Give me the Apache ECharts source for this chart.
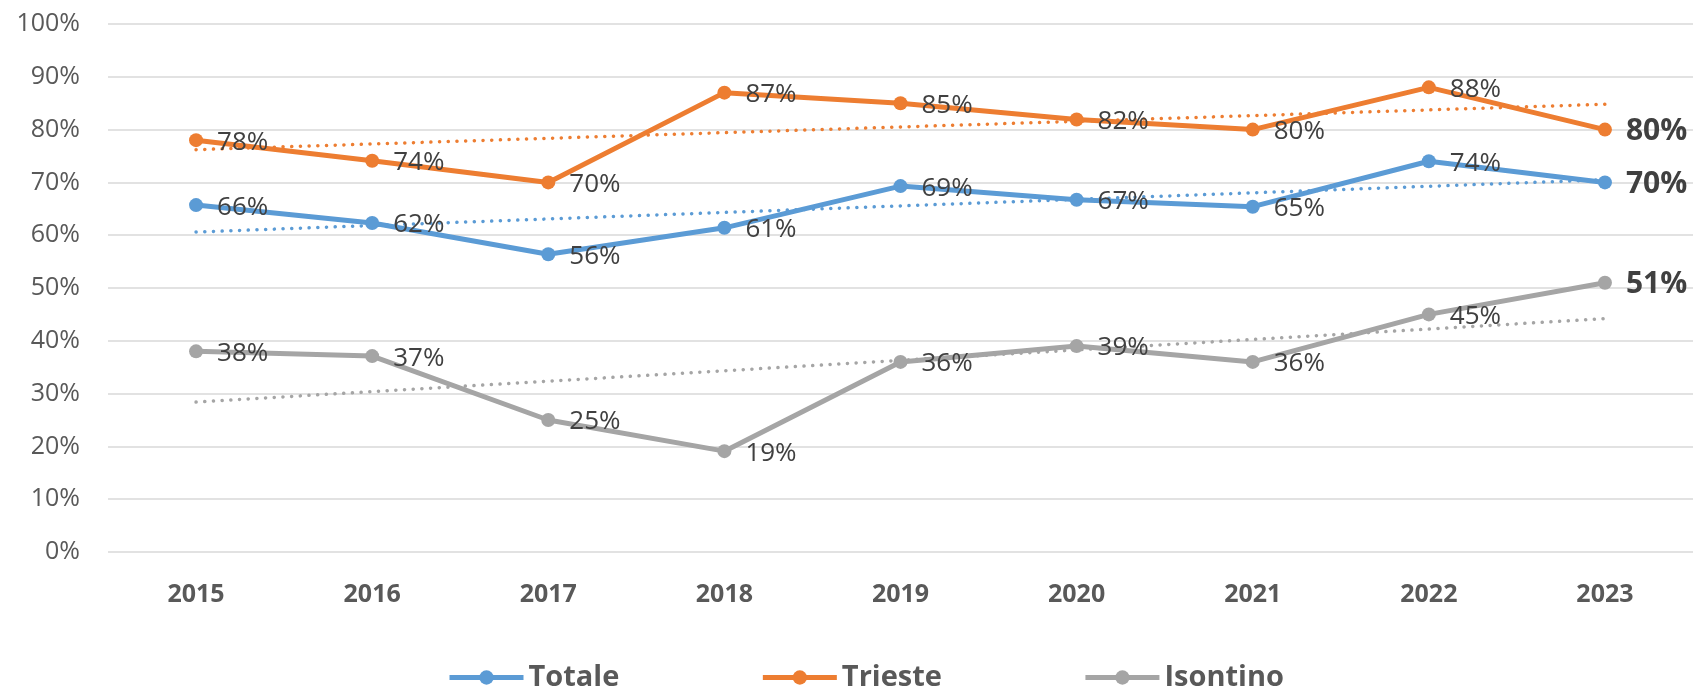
<!DOCTYPE html>
<html>
<head>
<meta charset="utf-8">
<script src="https://cdn.jsdelivr.net/npm/echarts@6/dist/echarts.min.js"></script>
<style>
    html, body { margin: 0; padding: 0; background: #fff; }
    #chart { width: 1701px; height: 689px; }
</style>
</head>
<body>
<div id="chart"></div>
<script>
// dati
var anni = ['2015', '2016', '2017', '2018', '2019', '2020', '2021', '2022', '2023'];
var totale = [65.7, 62.3, 56.4, 61.4, 69.3, 66.7, 65.4, 74.0, 70.0];
var trieste = [78.0, 74.1, 70.0, 87.0, 85.0, 81.9, 80.0, 88.0, 80.0];
var isontino = [38.0, 37.1, 25.0, 19.1, 36.0, 39.0, 36.0, 45.0, 51.0];
// linee di tendenza: valore iniziale (2015) e finale (2023)
var tendTotale = [60.6, 70.5];
var tendTrieste = [76.2, 84.8];
var tendIsontino = [28.4, 44.2];
var yTicks = [0, 10, 20, 30, 40, 50, 60, 70, 80, 90, 100];

(function(){
    var myChart = echarts.init(document.getElementById('chart'));
    var font = 'Open Sans';

    // ultimo punto con etichetta in grassetto
    function serieDati(valori) {
        return valori.map(function(v, i) {
            if (i === valori.length - 1) {
                return { value: v, label: { fontSize: 30, fontWeight: 'bold' } };
            }
            return v;
        });
    }
    // tendenza: solo primo e ultimo punto, collegati
    function tendenza(estremi) {
        return anni.map(function(a, i) {
            if (i === 0) return estremi[0];
            if (i === anni.length - 1) return estremi[1];
            return null;
        });
    }
    function linea(nome, valori, colore) {
        return {
            name: nome,
            type: 'line',
            data: serieDati(valori),
            symbol: 'circle',
            symbolSize: 14,
            z: 3,
            lineStyle: { width: 5, color: colore },
            itemStyle: { color: colore },
            label: {
                show: true,
                position: 'right',
                distance: 14,
                offset: [0, 2],
                color: '#404040',
                fontFamily: font,
                fontSize: 26,
                formatter: function(p) { return Math.round(p.value) + '%'; }
            }
        };
    }
    function lineaTend(nome, estremi, colore) {
        return {
            name: nome,
            type: 'line',
            data: tendenza(estremi),
            connectNulls: true,
            symbol: 'none',
            silent: true,
            z: 2,
            lineStyle: { width: 3.5, color: colore, type: [0.1, 8.6], cap: 'round' }
        };
    }

    var option = {
        animation: false,
        grid: { left: 108, right: 8, top: 24, bottom: 137 },
        legend: {
            data: ['Totale', 'Trieste', 'Isontino'],
            left: 442,
            top: 658,
            itemWidth: 74,
            itemHeight: 18,
            itemGap: 141,
            lineStyle: { width: 5 },
            textStyle: { fontFamily: font, fontSize: 29, fontWeight: 'bold', color: '#595959' }
        },
        xAxis: {
            type: 'category',
            data: anni,
            axisTick: { show: false },
            axisLine: { show: false },
            axisLabel: {
                color: '#595959',
                fontFamily: font,
                fontSize: 25,
                fontWeight: 'bold',
                margin: 30
            }
        },
        yAxis: {
            type: 'value',
            min: yTicks[0],
            max: yTicks[yTicks.length - 1],
            interval: 10,
            axisLine: { show: false },
            axisTick: { show: false },
            axisLabel: {
                color: '#595959',
                fontFamily: font,
                fontSize: 25,
                margin: 28,
                formatter: '{value}%'
            },
            splitLine: { lineStyle: { color: '#D9D9D9', width: 1.5 } }
        },
        series: [
            lineaTend('Tendenza Totale', tendTotale, '#5B9BD5'),
            lineaTend('Tendenza Trieste', tendTrieste, '#ED7D31'),
            lineaTend('Tendenza Isontino', tendIsontino, '#A5A5A5'),
            linea('Totale', totale, '#5B9BD5'),
            linea('Trieste', trieste, '#ED7D31'),
            linea('Isontino', isontino, '#A5A5A5')
        ]
    };
    myChart.setOption(option);
    window.addEventListener("resize", function(){
        myChart.resize();
    });
})();
</script>
</body>
</html>
